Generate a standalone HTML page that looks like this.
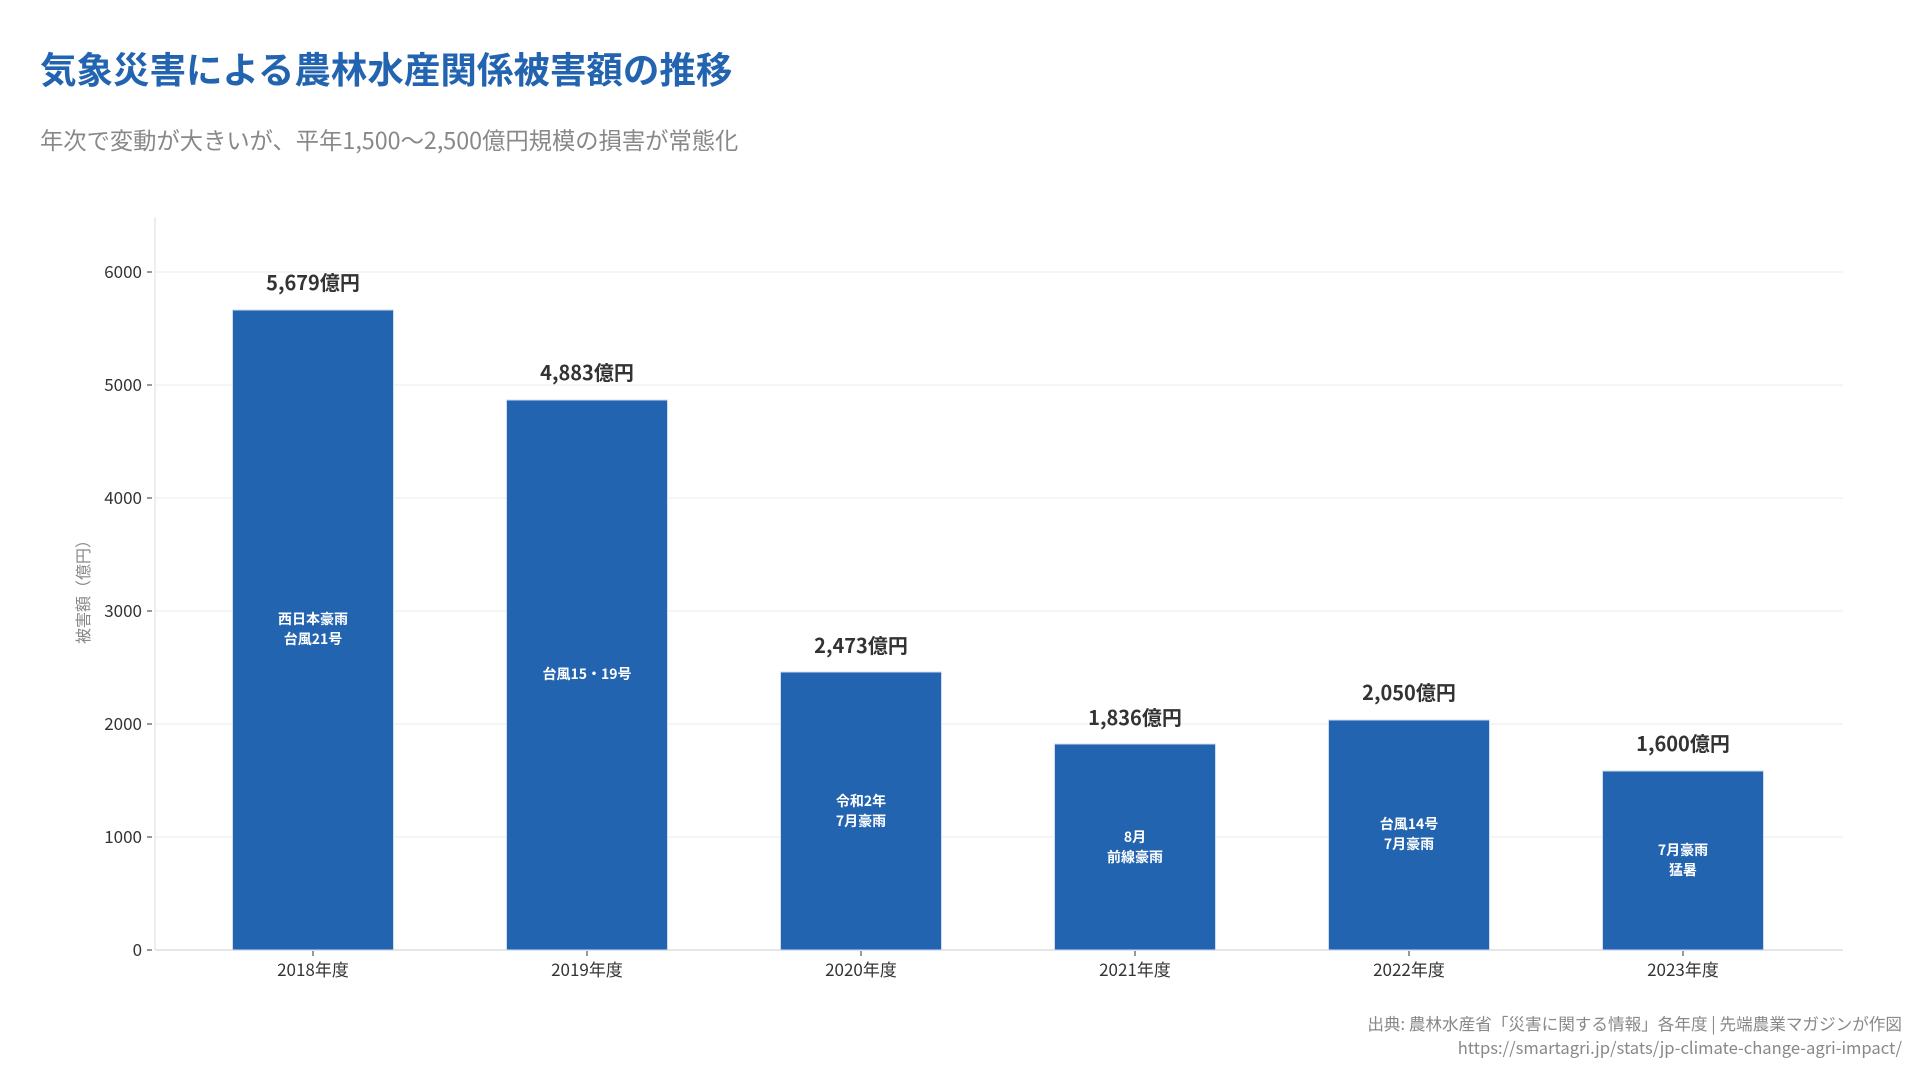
<!DOCTYPE html>
<html><head><meta charset="utf-8"><style>
body{margin:0;background:#fff;width:1920px;height:1080px;overflow:hidden;font-family:"Noto Sans CJK JP",sans-serif}
</style></head><body>
<svg width="1920" height="1080" xmlns="http://www.w3.org/2000/svg" font-family="Noto Sans CJK JP, sans-serif">
<text x="40" y="83" font-size="36.5" font-weight="bold" fill="#2364b0">気象災害による農林水産関係被害額の推移</text>
<text x="40" y="149" font-size="23.3" fill="#888">年次で変動が大きいが、平年1,500〜2,500億円規模の損害が常態化</text>
<g stroke="#ebebeb" stroke-width="1">
<line x1="155" y1="272" x2="1843" y2="272"/><line x1="155" y1="385" x2="1843" y2="385"/>
<line x1="155" y1="498" x2="1843" y2="498"/><line x1="155" y1="611" x2="1843" y2="611"/>
<line x1="155" y1="724" x2="1843" y2="724"/><line x1="155" y1="837" x2="1843" y2="837"/>
</g>
<line x1="155" y1="217" x2="155" y2="950" stroke="#ddd"/>
<line x1="155" y1="950" x2="1843" y2="950" stroke="#ddd" stroke-width="1.5"/>
<g font-size="17" fill="#333" text-anchor="end">
<text x="142" y="278">6000</text><text x="142" y="391">5000</text><text x="142" y="504">4000</text>
<text x="142" y="617">3000</text><text x="142" y="730">2000</text><text x="142" y="843">1000</text><text x="142" y="956">0</text>
</g>
<g stroke="#333"><line x1="147" y1="272" x2="152" y2="272"/><line x1="147" y1="385" x2="152" y2="385"/><line x1="147" y1="498" x2="152" y2="498"/><line x1="147" y1="611" x2="152" y2="611"/><line x1="147" y1="724" x2="152" y2="724"/><line x1="147" y1="837" x2="152" y2="837"/><line x1="147" y1="950" x2="152" y2="950"/></g>
<text transform="translate(89,588) rotate(-90)" font-size="16" fill="#888" text-anchor="middle">被害額（億円）</text>
<g fill="#2364b0" stroke="#cfdcef" stroke-width="1">
<rect x="232.5" y="310" width="161" height="640"/>
<rect x="506.5" y="400" width="161" height="550"/>
<rect x="780.5" y="672" width="161" height="278"/>
<rect x="1054.5" y="744" width="161" height="206"/>
<rect x="1328.5" y="720" width="161" height="230"/>
<rect x="1602.5" y="771" width="161" height="179"/>
</g>
<g font-size="20" font-weight="bold" fill="#333" text-anchor="middle">
<text x="313" y="290">5,679億円</text><text x="587" y="380">4,883億円</text><text x="861" y="653">2,473億円</text>
<text x="1135" y="725">1,836億円</text><text x="1409" y="700">2,050億円</text><text x="1683" y="751">1,600億円</text>
</g>
<g font-size="14" font-weight="bold" fill="#fff" text-anchor="middle">
<text x="313" y="624">西日本豪雨</text><text x="313" y="644">台風21号</text>
<text x="587" y="679">台風15・19号</text>
<text x="861" y="806">令和2年</text><text x="861" y="826">7月豪雨</text>
<text x="1135" y="842">8月</text><text x="1135" y="862">前線豪雨</text>
<text x="1409" y="829">台風14号</text><text x="1409" y="849">7月豪雨</text>
<text x="1683" y="855">7月豪雨</text><text x="1683" y="875">猛暑</text>
</g>
<g stroke="#333"><line x1="313" y1="951" x2="313" y2="956"/><line x1="587" y1="951" x2="587" y2="956"/><line x1="861" y1="951" x2="861" y2="956"/><line x1="1135" y1="951" x2="1135" y2="956"/><line x1="1409" y1="951" x2="1409" y2="956"/><line x1="1683" y1="951" x2="1683" y2="956"/></g>
<g font-size="17" fill="#333" text-anchor="middle">
<text x="313" y="976">2018年度</text><text x="587" y="976">2019年度</text><text x="861" y="976">2020年度</text>
<text x="1135" y="976">2021年度</text><text x="1409" y="976">2022年度</text><text x="1683" y="976">2023年度</text>
</g>
<g font-size="16.6" fill="#888" text-anchor="end">
<text x="1902" y="1030">出典: 農林水産省「災害に関する情報」各年度 | 先端農業マガジンが作図</text>
<text x="1902" y="1054">https://smartagri.jp/stats/jp-climate-change-agri-impact/</text>
</g>
</svg>
</body></html>
